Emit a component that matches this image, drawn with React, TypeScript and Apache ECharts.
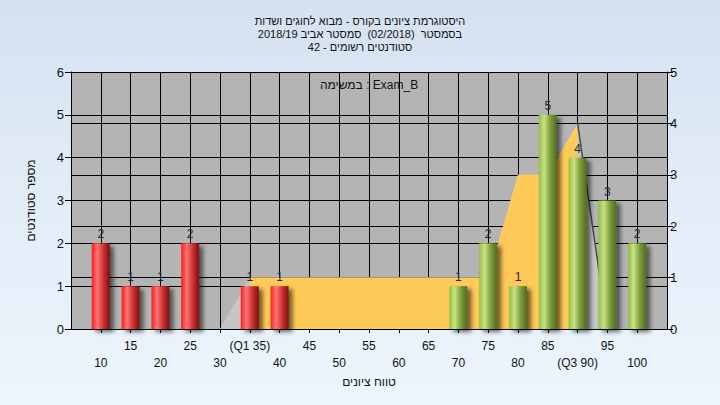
import React, { useEffect, useRef } from "react";
import * as echarts from "echarts";

const titleLines = [
  "היסטוגרמת ציונים בקורס - מבוא לחוגים ושדות",
  "בסמסטר  (02/2018)  סמסטר אביב 2018/19",
  "סטודנטים רשומים - 42",
];
const noteText = "במשימה : Exam_B";
const xAxisName = "טווח ציונים";
const yAxisName = "מספר סטודנטים";

const redScores = [10, 15, 20, 25, 35, 40];
const redCounts = [2, 1, 1, 2, 1, 1];
const greenScores = [70, 75, 80, 85, 90, 95, 100];
const greenCounts = [1, 2, 1, 5, 4, 3, 2];

const curveScores = [30, 35, 40, 45, 50, 55, 60, 65, 70, 75, 80, 85, 90, 95];
const curveValues = [0, 1, 1, 1, 1, 1, 1, 1, 1, 1, 3, 3, 4, 0];
const q1 = 35;
const q3 = 90;

const specialLabels: Record<number, string> = { 35: "(Q1 35)", 90: "(Q3 90)" };

export default function App() {
  const ref = useRef<HTMLDivElement>(null);
  useEffect(() => {
    if (!ref.current) return;
    const chart = echarts.init(ref.current, undefined, { renderer: "svg" });
    const redGrad = new echarts.graphic.LinearGradient(0, 0, 1, 0, [
      { offset: 0, color: "#ff1a1a" },
      { offset: 0.3, color: "#ff7575" },
      { offset: 0.65, color: "#cc3030" },
      { offset: 1, color: "#7a1010" },
    ]);
    const greenGrad = new echarts.graphic.LinearGradient(0, 0, 1, 0, [
      { offset: 0, color: "#92bf42" },
      { offset: 0.3, color: "#c8e284" },
      { offset: 0.65, color: "#7d9c3a" },
      { offset: 1, color: "#4f6a22" },
    ]);
    const curve = curveScores.map((s, i) => [s, curveValues[i]]);
    const iqr = curveScores
      .map((s, i) => [s, curveValues[i]])
      .filter((p) => p[0] >= q1 && p[0] <= q3);
    const tailIdx = curveScores.indexOf(q3);
    const tail = [
      [curveScores[tailIdx], curveValues[tailIdx]],
      [curveScores[tailIdx + 1], curveValues[tailIdx + 1]],
    ];
    const font = "Arial, 'Liberation Sans', sans-serif";
    const barLabel = {
      show: true,
      position: "top",
      distance: 3,
      color: "#1c2638",
      fontSize: 12,
      fontFamily: font,
    };
    const shadow = {
      shadowBlur: 4,
      shadowOffsetX: 4,
      shadowOffsetY: 3,
      shadowColor: "rgba(0,0,0,0.55)",
    };
    chart.setOption({
      animation: false,
      backgroundColor: "transparent",
      textStyle: { fontFamily: font },
      title: {
        text: titleLines.join("\n"),
        left: "center",
        top: 9,
        textStyle: { fontSize: 11, fontWeight: "normal", color: "#111", lineHeight: 13, fontFamily: font },
      },
      graphic: [
        {
          type: "text",
          left: 320,
          top: 79,
          style: { text: noteText, fontSize: 12, fill: "#111", fontFamily: font },
        },
      ],
      grid: { left: 71, right: 53, top: 72, bottom: 76, show: true, backgroundColor: "#b4b4b4", borderWidth: 0 },
      xAxis: {
        type: "value",
        min: 5,
        max: 105,
        interval: 5,
        name: xAxisName,
        nameLocation: "middle",
        nameGap: 45,
        nameTextStyle: { fontSize: 12, color: "#111", fontFamily: font },
        axisLine: { show: true, lineStyle: { color: "#000", width: 1 } },
        axisTick: { show: true, length: 4, lineStyle: { color: "#000" } },
        splitLine: { show: true, lineStyle: { color: "#000", width: 1 } },
        axisLabel: {
          margin: 8,
          fontSize: 12,
          lineHeight: 17,
          color: "#111",
          fontFamily: font,
          showMinLabel: false,
          showMaxLabel: false,
          formatter: (v: number) => {
            if (v < 10 || v > 100) return "";
            const t = specialLabels[v] ?? String(v);
            return v % 10 === 0 ? "\n" + t : t;
          },
        },
      },
      yAxis: [
        {
          type: "value",
          min: 0,
          max: 6,
          interval: 1,
          position: "left",
          name: yAxisName,
          nameLocation: "middle",
          nameGap: 34,
          nameRotate: 90,
          nameTextStyle: { fontSize: 12, color: "#111", fontFamily: font },
          axisLine: { show: true, lineStyle: { color: "#000" } },
          axisTick: { show: true, length: 6, lineStyle: { color: "#000" } },
          splitLine: { show: true, lineStyle: { color: "#000" } },
          axisLabel: { fontSize: 13, color: "#111", margin: 7, fontFamily: font },
        },
        {
          type: "value",
          min: 0,
          max: 5,
          interval: 1,
          position: "right",
          axisLine: { show: true, lineStyle: { color: "#000" } },
          axisTick: { show: true, length: 6, lineStyle: { color: "#000" } },
          splitLine: { show: true, lineStyle: { color: "#000" } },
          axisLabel: { fontSize: 13, color: "#111", margin: 3, fontFamily: font },
        },
      ],
      series: [
        {
          type: "line",
          yAxisIndex: 1,
          data: curve,
          symbol: "none",
          lineStyle: { width: 0, color: "#c6c6c6" },
          areaStyle: { color: "#c6c6c6", opacity: 1 },
          z: 1,
        },
        {
          type: "line",
          yAxisIndex: 1,
          data: iqr,
          symbol: "none",
          lineStyle: { width: 0, color: "#ffca57" },
          areaStyle: { color: "#ffca57", opacity: 1 },
          z: 1,
        },
        {
          type: "line",
          yAxisIndex: 1,
          data: tail,
          symbol: "none",
          lineStyle: { width: 1.5, color: "#4a4a4a" },
          z: 1,
        },
        {
          type: "bar",
          yAxisIndex: 0,
          barWidth: 18,
          data: redScores.map((s, i) => [s, redCounts[i]]),
          itemStyle: { color: redGrad, ...shadow },
          label: barLabel,
          z: 3,
        },
        {
          type: "bar",
          yAxisIndex: 0,
          barWidth: 18,
          barGap: "-100%",
          data: greenScores.map((s, i) => [s, greenCounts[i]]),
          itemStyle: { color: greenGrad, ...shadow },
          label: barLabel,
          z: 3,
        },
      ],
    });
    return () => chart.dispose();
  }, []);
  return (
    <div
      style={{
        position: "absolute",
        left: 0,
        top: 0,
        width: 720,
        height: 405,
        background: "linear-gradient(180deg, #d5e1f1 0%, #e3edf8 50%, #edf5fd 100%)",
      }}
    >
      <div ref={ref} style={{ width: 720, height: 405 }} />
    </div>
  );
}
